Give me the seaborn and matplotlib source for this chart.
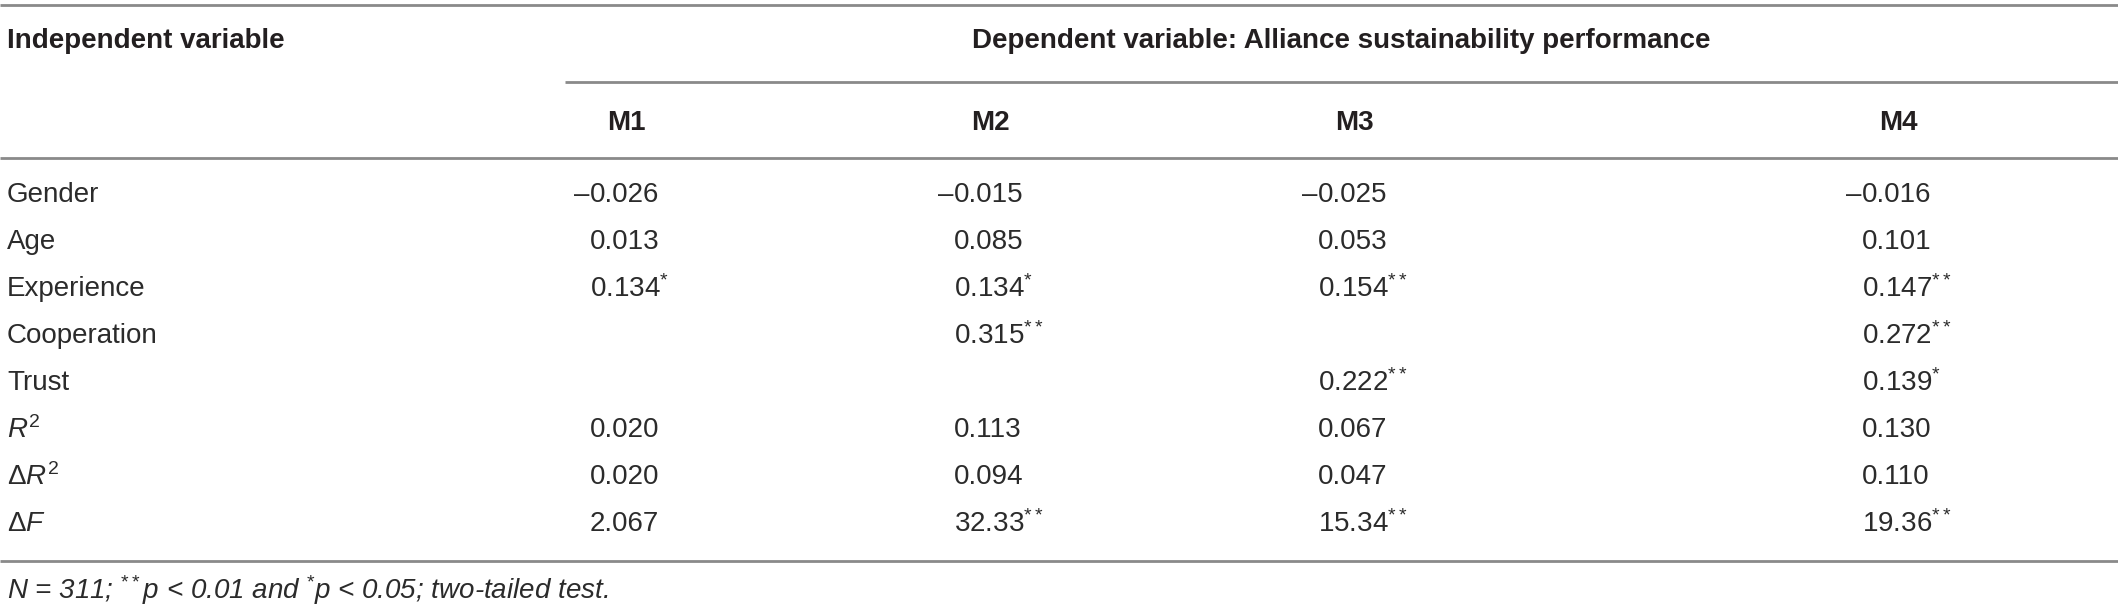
import matplotlib
matplotlib.use("Agg")
import matplotlib.pyplot as plt
import seaborn as sns

# table content
row_labels = ["Gender", "Age", "Experience", "Cooperation", "Trust",
              r"$R^2$", r"$\Delta R^2$", r"$\Delta F$"]
models = ["M1", "M2", "M3", "M4"]
m1 = ["\u20130.026", "0.013", "0.134*", "", "", "0.020", "0.020", "2.067"]
m2 = ["\u20130.015", "0.085", "0.134*", "0.315**", "", "0.113", "0.094", "32.33**"]
m3 = ["\u20130.025", "0.053", "0.154**", "", "0.222**", "0.067", "0.047", "15.34**"]
m4 = ["\u20130.016", "0.101", "0.147**", "0.272**", "0.139*", "0.130", "0.110", "19.36**"]
header_left = "Independent variable"
header_dep = "Dependent variable: Alliance sustainability performance"
footnote = r"$N$ = 311; $^{**}$$p$ < 0.01 and $^{*}$$p$ < 0.05; two-tailed test."

sns.set_theme(style="white")
plt.rcParams["font.family"] = ["Liberation Sans", "DejaVu Sans"]
plt.rcParams["mathtext.fontset"] = "custom"
plt.rcParams["mathtext.rm"] = "Liberation Sans"
plt.rcParams["mathtext.it"] = "Liberation Sans:italic"
plt.rcParams["mathtext.bf"] = "Liberation Sans:bold"

W, H = 2118, 609
fig = plt.figure(figsize=(W / 100, H / 100), dpi=100)
ax = fig.add_axes([0, 0, 1, 1])
ax.set_xlim(0, W)
ax.set_ylim(H, 0)
ax.axis("off")

txt = "#231f20"
body = "#2b2b2b"
rule = "#8a8a8a"
fs = 20
col_x = [626, 990, 1354, 1898]
row_y0, row_step = 195, 47
digit_half = 36

# rules
ax.hlines([5, 158, 561], 0, W, color=rule, lw=2)
ax.hlines(82, 565, W, color=rule, lw=2)

# headers
ax.text(7, 41, header_left, fontsize=fs, fontweight="bold", color=txt, va="center")
ax.text((565 + W) / 2, 41, header_dep, fontsize=fs, fontweight="bold",
        color=txt, va="center", ha="center")
for x, m in zip(col_x, models):
    ax.text(x, 123, m, fontsize=fs, fontweight="bold", color=txt,
            va="center", ha="center")

# body
for i, lab in enumerate(row_labels):
    y = row_y0 + i * row_step
    ax.text(7, y, lab, fontsize=fs, color=body, va="center")
    for x, col in zip(col_x, [m1, m2, m3, m4]):
        val = col[i]
        if not val:
            continue
        neg = val.startswith("\u2013")
        core = val.lstrip("\u2013")
        stars = core.count("*")
        core = core.rstrip("*")
        if stars:
            core = core + r"$^{" + "*" * stars + "}$"
        ax.text(x - digit_half, y, core, fontsize=fs, color=body, va="center", ha="left")
        if neg:
            ax.text(x - digit_half, y, "\u2013", fontsize=fs, color=body,
                    va="center", ha="right")

ax.text(7, 590, footnote, fontsize=fs, color=body, va="center", style="italic")

fig.savefig("out.png", dpi=100)
